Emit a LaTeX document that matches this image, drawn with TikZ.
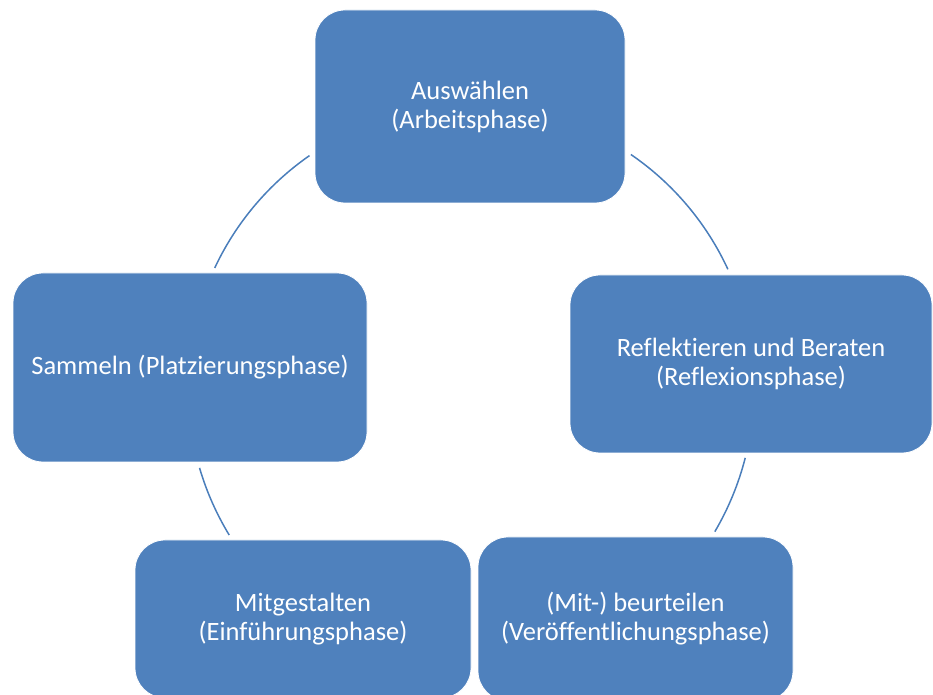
\documentclass[tikz,border=0pt]{standalone}
\usepackage{fontspec}
\setmainfont{Carlito}[Ligatures=CommonOff]
\usetikzlibrary{calc}
\definecolor{boxblue}{HTML}{4F81BD}
\definecolor{linkblue}{HTML}{4A7EBB}
\begin{document}
\begin{tikzpicture}[x=1pt,y=1pt,
  phase/.style={rectangle, rounded corners=30pt, fill=boxblue, draw=white, line width=0.8pt,
    text=white, align=center, font=\fontsize{26.5}{29}\selectfont, inner sep=0pt},
  link/.style={draw=linkblue, line width=1.5pt}]
\useasboundingbox (0,0) rectangle (933,695);
\begin{scope}
\clip (0,0) rectangle (933,695);
\node[phase, minimum width=310pt, minimum height=193pt] (a) at (470,588.5) {Auswählen\\(Arbeitsphase)};
\node[phase, minimum width=362pt, minimum height=178pt] (r) at (751,331) {Reflektieren und Beraten\\(Reflexionsphase)};
\node[phase, minimum width=354pt, minimum height=189pt] (s) at (190,327.5) {Sammeln (Platzierungsphase)};
\node[phase, minimum width=336pt, minimum height=158pt] (m) at (303,76) {Mitgestalten\\(Einführungsphase)};
\node[phase, minimum width=315pt, minimum height=164pt] (b) at (635.5,76) {(Mit-) beurteilen\\(Veröffentlichungsphase)};
\end{scope}
\coordinate (c) at (471,307);
\coordinate (p1) at ($(c)+(124.8:283)$);
\coordinate (p2) at ($(c)+(55.6:283)$);
\coordinate (p3) at ($(c)+(-14.3:283)$);
\coordinate (p4) at ($(c)+(196.4:283)$);
\draw[link] (p1) arc[start angle=124.8, end angle=154.9, radius=283];
\draw[link] (p2) arc[start angle=55.6, end angle=24.8, radius=283];
\draw[link] (p3) arc[start angle=-14.3, end angle=-30.5, radius=283];
\draw[link] (p4) arc[start angle=196.4, end angle=211.3, radius=283];
\end{tikzpicture}
\end{document}
